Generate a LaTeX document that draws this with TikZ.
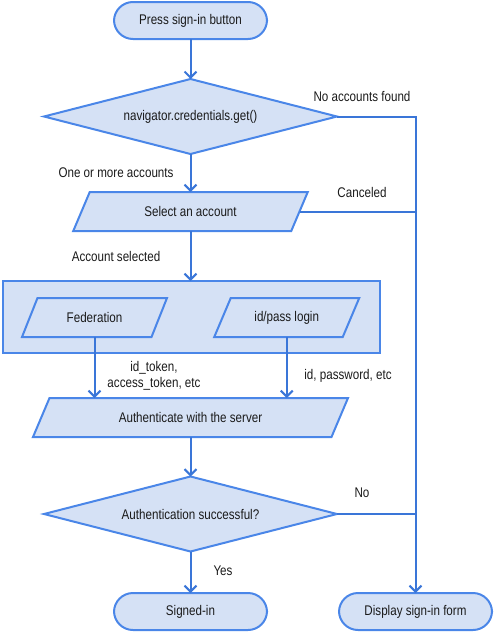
\documentclass[tikz,border=0pt]{standalone}
\usepackage{fontspec}
\setmainfont[FakeStretch=0.83]{Liberation Sans}
\usetikzlibrary{shapes.geometric,arrows.meta,calc}
\definecolor{shapefill}{HTML}{D5E1F5}
\definecolor{shapeline}{HTML}{4A86E8}
\definecolor{conn}{HTML}{3A76D8}
\definecolor{txt}{HTML}{1A1A1A}
\tikzset{
  base/.style={inner sep=0pt, outer sep=0pt, font=\fontsize{14}{16}\selectfont, text=txt},
  term/.style={base, draw=shapeline, fill=shapefill, line width=2pt, rounded corners=19pt, minimum width=153pt, minimum height=37pt},
  dia/.style={base, diamond, draw=shapeline, fill=shapefill, line width=2pt, shape aspect=3.9, minimum width=293pt, minimum height=75pt},
  pbox/.style={base, minimum height=39pt},
  pshape/.style={draw=shapeline, fill=shapefill, line width=2pt},
  group/.style={base, draw=shapeline, fill=shapefill, line width=2pt, minimum width=377pt, minimum height=72pt},
  lbl/.style={base, align=center},
  arr/.style={draw=conn, line width=2pt, -{Straight Barb[length=6pt,width=12pt,line width=2pt]}},
  ln/.style={draw=conn, line width=2pt},
}
\newcommand{\para}[2]{%
  \draw[pshape] ($(#1.north west)+(#2,0)$) -- ($(#1.north east)+(#2,0)$) --
    ($(#1.south east)+(-#2,0)$) -- ($(#1.south west)+(-#2,0)$) -- cycle;}
\begin{document}
\begin{tikzpicture}[x=1pt,y=-1pt]
\useasboundingbox (0,0) rectangle (496,632);
% group box
\node[group] (grp) at (191.5,317) {};
% nodes
\node[term] (start) at (190.5,20.5) {Press sign-in button};
\node[dia] (d1) at (190.5,116.5) {navigator.credentials.get()};
\node[pbox, minimum width=218pt] (sel) at (190.5,211.5) {};
\para{sel}{8.25}
\node[base] (selt) at (sel) {Select an account};
\node[pbox, minimum width=129.5pt] (fed) at (94.5,317.5) {};
\para{fed}{7.75}
\node[base] (fedt) at (fed) {Federation};
\node[pbox, minimum width=128.5pt] (idp) at (286.75,317.5) {};
\para{idp}{8.25}
\node[base] (idpt) at (idp) {id/pass login};
\node[pbox, minimum width=298.5pt] (auth) at (190.5,417.5) {};
\para{auth}{8.25}
\node[base] (autht) at (auth) {Authenticate with the server};
\node[dia] (d2) at (190.5,514) {Authentication successful?};
\node[term] (signed) at (190.5,611.5) {Signed-in};
\node[term] (disp) at (415.5,611.5) {Display sign-in form};
% connectors
\draw[arr] (start.south) -- (d1.north);
\draw[arr] (d1.south) -- (sel.north);
\draw[arr] (sel.south) -- (sel.south |- grp.north);
\draw[arr] (fed.south) -- (fed.south |- auth.north);
\draw[arr] (idp.south) -- (idp.south |- auth.north);
\draw[arr] (auth.south) -- (d2.north);
\draw[arr] (d2.south) -- (signed.north);
\draw[arr] (d1.east) -- (d1.east -| disp.north) -- (disp.north);
\draw[ln] (sel.east) -- (sel.east -| disp.north);
\draw[ln] (d2.east) -- (d2.east -| disp.north);
% labels
\node[lbl] (l1) at (362,96) {No accounts found};
\node[lbl] (l2) at (116,173) {One or more accounts};
\node[lbl] (l3) at (362,192) {Canceled};
\node[lbl] (l4) at (116,256) {Account selected};
\node[lbl] (l5) at (154,376) {id\_token,\\access\_token, etc};
\node[lbl] (l6) at (348,376) {id, password, etc};
\node[lbl] (l7) at (362,493) {No};
\node[lbl] (l8) at (223,571) {Yes};
\end{tikzpicture}
\end{document}
